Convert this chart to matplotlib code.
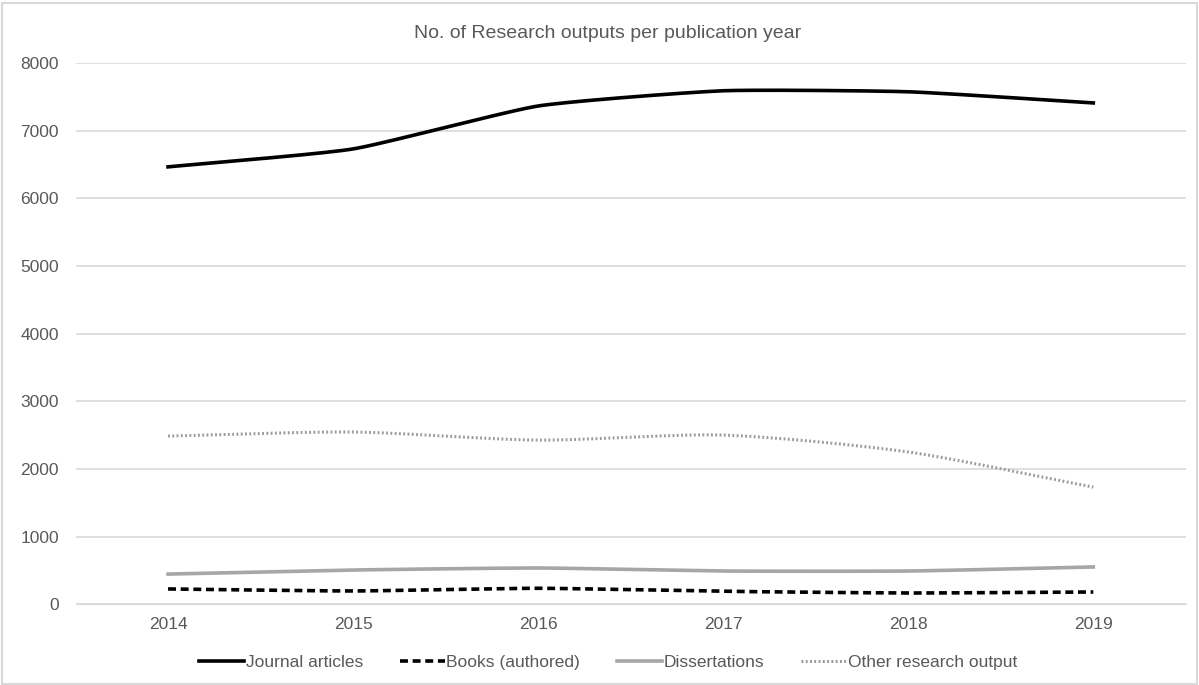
import numpy as np
import matplotlib.pyplot as plt

plt.rcParams["font.family"] = ["Liberation Sans", "DejaVu Sans"]

years = ["2014", "2015", "2016", "2017", "2018", "2019"]
journal = [6465, 6730, 7365, 7590, 7575, 7410]
books = [225, 195, 235, 190, 165, 180]
dissertations = [445, 505, 535, 490, 490, 550]
other = [2485, 2545, 2425, 2500, 2250, 1730]


def smooth(x, y, k=12, n=30):
    # light Bezier smoothing between points, like Excel's "smoothed line"
    x = np.asarray(x, float)
    y = np.asarray(y, float)
    px = np.concatenate([[2 * x[0] - x[1]], x, [2 * x[-1] - x[-2]]])
    py = np.concatenate([[2 * y[0] - y[1]], y, [2 * y[-1] - y[-2]]])
    xs, ys = [], []
    t = np.linspace(0, 1, n)
    for i in range(1, len(px) - 2):
        for p, out in ((px, xs), (py, ys)):
            p0, p1, p2, p3 = p[i - 1], p[i], p[i + 1], p[i + 2]
            c1 = p1 + (p2 - p0) / k
            c2 = p2 - (p3 - p1) / k
            out.extend((1 - t) ** 3 * p1 + 3 * (1 - t) ** 2 * t * c1
                       + 3 * (1 - t) * t ** 2 * c2 + t ** 3 * p2)
    return xs, ys


fig = plt.figure(figsize=(11.99, 6.85), dpi=100)
ax = fig.add_axes([0.063, 0.118, 0.926, 0.790])

x = np.arange(len(years))
ax.plot(*smooth(x, journal), color="black", lw=2.6, label="Journal articles")
ax.plot(*smooth(x, books), color="black", lw=2.6, ls=(0, (2.2, 1.3)), label="Books (authored)")
ax.plot(*smooth(x, dissertations), color="#a6a6a6", lw=2.6, label="Dissertations")
ax.plot(*smooth(x, other, k=8), color="#9a9a9a", lw=2.2, ls=(0, (0.6, 0.8)), label="Other research output")

ax.set_xlim(-0.5, len(years) - 0.5)
ax.set_ylim(0, 8000)
ax.set_yticks(range(0, 8001, 1000))
ax.set_xticks(x)
ax.set_xticklabels(years)
ax.tick_params(colors="#595959", labelsize=12.5, length=0)
ax.tick_params(axis="y", pad=12)
ax.tick_params(axis="x", pad=9)
ax.grid(axis="y", color="#d9d9d9", lw=1.2)
ax.set_axisbelow(True)
for s in ax.spines.values():
    s.set_visible(False)
ax.spines["bottom"].set_visible(True)
ax.spines["bottom"].set_color("#d9d9d9")

fig.text(0.507, 0.951, "No. of Research outputs per publication year",
         ha="center", va="center", fontsize=14, color="#595959")
fig.legend(loc="center", bbox_to_anchor=(0.507, 0.033), ncol=4, frameon=False,
           fontsize=12.5, labelcolor="#595959", handlelength=2.6, handletextpad=0.1,
           columnspacing=2.1)

fig.patches.append(plt.Rectangle((0.002, 0.002), 0.996, 0.993, transform=fig.transFigure,
                                 fill=False, edgecolor="#d9d9d9", lw=1.5))
fig.savefig("out.png", dpi=100)
